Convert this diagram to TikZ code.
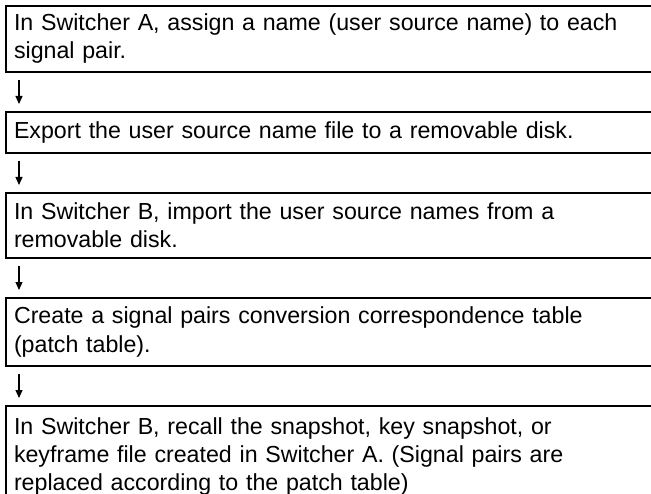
\documentclass[tikz,border=0pt]{standalone}
\usepackage{fontspec}
\setmainfont{Liberation Sans}
\usetikzlibrary{arrows.meta}
\begin{document}
\begin{tikzpicture}[x=1bp,y=-1bp,
  box/.style={draw, line width=2bp, anchor=north west, text width=684bp,
    align=left, inner xsep=8bp, inner ysep=0bp,
    font=\fontsize{23.2bp}{28bp}\selectfont},
  flow/.style={-{Triangle[length=8bp,width=7bp]}, line width=1.2bp}]
\useasboundingbox (0,0) rectangle (651,494);
\clip (0,0) rectangle (651,494);
\node[box, minimum height=66bp] (s1) at (5,5)
  {In Switcher A, assign a name (user source name) to each\\signal pair.};
\node[box, minimum height=41bp] (s2) at (5,111)
  {Export the user source name file to a removable disk.};
\node[box, minimum height=65bp] (s3) at (5,192)
  {In Switcher B, import the user source names from a\\removable disk.};
\node[box, minimum height=68bp] (s4) at (5,297)
  {Create a signal pairs conversion correspondence table\\(patch table).};
\node[box, minimum height=100bp] (s5) at (5,405)
  {In Switcher B, recall the snapshot, key snapshot, or\\keyframe file created in Switcher A. (Signal pairs are\\replaced according to the patch table)};
\foreach \a/\b in {s1/s2,s2/s3,s3/s4,s4/s5}
  \draw[flow] ([xshift=14bp,yshift=-7bp]\a.south west) -- ([xshift=14bp,yshift=7bp]\b.north west);
\end{tikzpicture}
\end{document}
